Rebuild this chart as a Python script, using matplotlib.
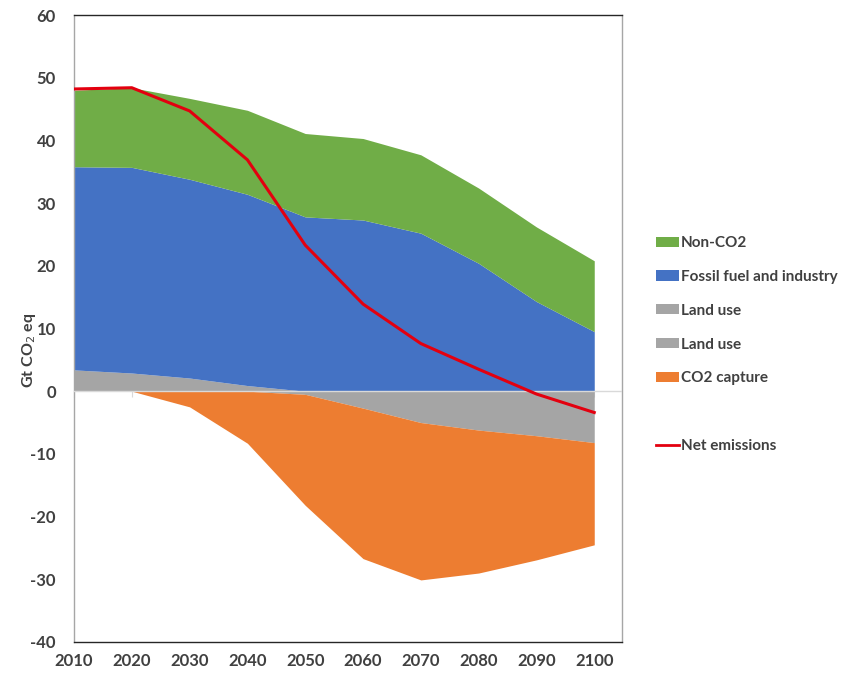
import matplotlib
matplotlib.use("Agg")
import matplotlib.pyplot as plt
from matplotlib.patches import Patch
from matplotlib.lines import Line2D
import numpy as np

years = [2010, 2020, 2030, 2040, 2050, 2060, 2070, 2080, 2090, 2100]
land_use_pos = [3.4, 2.9, 2.1, 0.9, 0.0, 0.0, 0.0, 0.0, 0.0, 0.0]
fossil = [32.4, 32.8, 31.7, 30.5, 27.8, 27.3, 25.2, 20.4, 14.3, 9.5]
non_co2 = [12.2, 12.7, 12.9, 13.4, 13.3, 13.0, 12.5, 12.0, 11.9, 11.3]
land_use_neg = [0.0, 0.0, 0.0, 0.0, -0.5, -2.7, -5.0, -6.2, -7.1, -8.2]
co2_capture = [0.0, 0.0, -2.5, -8.3, -17.7, -24.0, -25.1, -22.8, -19.8, -16.3]
net_emissions = [48.2, 48.4, 44.7, 36.9, 23.3, 13.9, 7.6, 3.5, -0.45, -3.4]
y_ticks = [-40, -30, -20, -10, 0, 10, 20, 30, 40, 50, 60]

c_green = "#70AD47"
c_blue = "#4472C4"
c_gray = "#A5A5A5"
c_orange = "#ED7D31"
c_red = "#E3000F"
txt = "#404040"

plt.rcParams["font.family"] = ["Lato", "DejaVu Sans"]
plt.rcParams["axes.unicode_minus"] = False

fig = plt.figure(figsize=(8.45, 6.78), dpi=100)
ax = fig.add_axes([74/845, 1-642/678, (622-74)/845, (642-15)/678])

x = np.array(years, dtype=float)
lu = np.array(land_use_pos)
ff = np.array(fossil)
nc = np.array(non_co2)
lun = np.array(land_use_neg)
cap = np.array(co2_capture)

ax.fill_between(x, 0, lu, color=c_gray, lw=0)
ax.fill_between(x, lu, lu+ff, color=c_blue, lw=0)
ax.fill_between(x, lu+ff, lu+ff+nc, color=c_green, lw=0)
ax.fill_between(x, 0, lun, color=c_gray, lw=0)
ax.fill_between(x, lun, lun+cap, color=c_orange, lw=0)
ax.axhline(0, color="#D9D9D9", lw=1.0, zorder=3)
ax.plot(x, net_emissions, color=c_red, lw=2.2, zorder=4)

ax.set_xlim(2010, 2104.8)
ax.set_ylim(-40, 60)
ax.set_xticks(years)
ax.set_yticks(y_ticks)
ax.tick_params(axis="both", length=0, labelsize=12, labelcolor=txt)
ax.tick_params(axis="x", pad=8)
ax.tick_params(axis="y", pad=13)
for lab in ax.get_xticklabels() + ax.get_yticklabels():
    lab.set_fontweight("bold")

ax.spines["left"].set_color("#A6A6A6")
ax.spines["right"].set_color("#A6A6A6")
ax.spines["top"].set_color("#262626")
ax.spines["bottom"].set_color("#262626")
for s in ax.spines.values():
    s.set_linewidth(1.0)

# zero-line ticks
sec = ax.secondary_xaxis(0.4)
sec.set_xticks(years)
sec.tick_params(axis="x", direction="out", length=4, color="#D9D9D9", labelbottom=False)
sec.spines["bottom"].set_visible(False)
sec.set_xticklabels([])

fig.text(29/845, 1-350/678, r"Gt CO$_2$ eq", rotation=90, ha="center", va="center",
         fontsize=11.5, fontweight="bold", color=txt)

handles = [
    Patch(facecolor=c_green, edgecolor="none"),
    Patch(facecolor=c_blue, edgecolor="none"),
    Patch(facecolor=c_gray, edgecolor="none"),
    Patch(facecolor=c_gray, edgecolor="none"),
    Patch(facecolor=c_orange, edgecolor="none"),
    Patch(facecolor="none", edgecolor="none"),
    Line2D([0], [0], color=c_red, lw=2),
]
labels = ["Non-CO2", "Fossil fuel and industry", "Land use", "Land use", "CO2 capture", " ", "Net emissions"]
leg = fig.legend(handles, labels, loc="upper left", bbox_to_anchor=(656/845, 1-236/678),
                 frameon=False, fontsize=11, handlelength=1.5, handleheight=0.65,
                 handletextpad=0.15, labelspacing=1.3, borderaxespad=0, borderpad=0)
for t in leg.get_texts():
    t.set_color(txt)
    t.set_fontweight("bold")

fig.savefig("out.png", dpi=100)
